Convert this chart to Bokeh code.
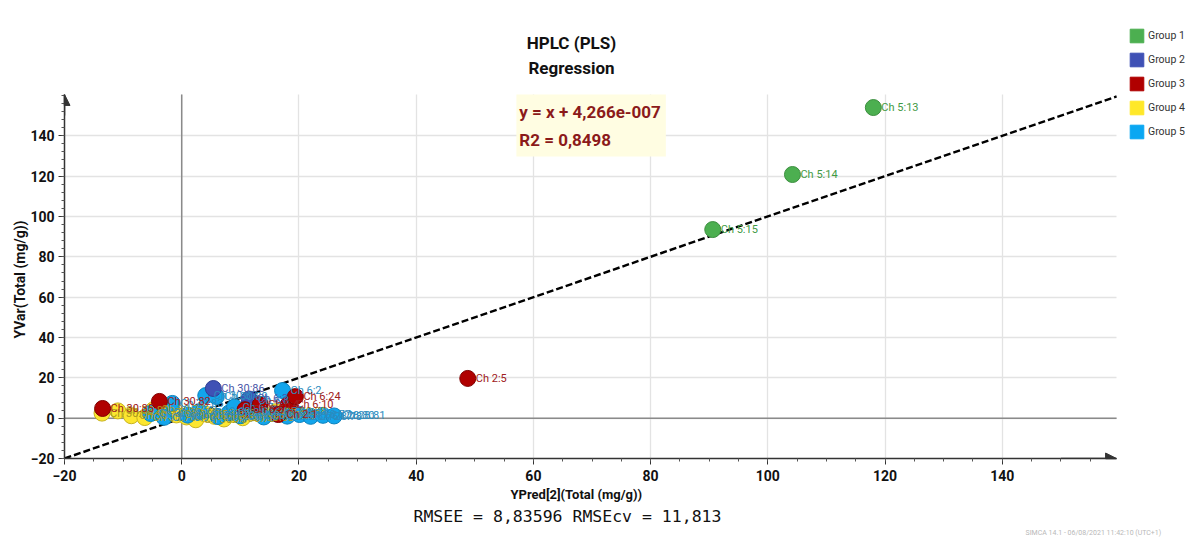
from bokeh.plotting import figure
from bokeh.models import (Range1d, BoxAnnotation, Legend, LegendItem, Title, Label,
                          ColumnDataSource, Arrow, NormalHead, FixedTicker, LabelSet)
from bokeh.core.properties import value
from bokeh.embed import file_html
from bokeh.resources import INLINE

FONT = "Roboto"

# ---------------- data ----------------
group_names = ["Group 1", "Group 2", "Group 3", "Group 4", "Group 5"]

g1_x = [90.6, 104.2, 118.0]
g1_y = [93.5, 120.8, 154.0]
g1_lab = ["Ch 5:15", "Ch 5:14", "Ch 5:13"]

g2_x = [5.4, 11.5]
g2_y = [14.7, 9.5]
g2_lab = ["Ch 30:86", "Ch 6:3"]

g3_x = [-13.5, -3.8, 13.4, 16.5, 18.2, 19.4, 48.8, 10.8]
g3_y = [4.8, 8.3, 6.8, 1.8, 6.8, 10.7, 19.7, 4.2]
g3_lab = ["Ch 30:85", "Ch 30:82", "Ch 6:4", "Ch 2:1", "Ch 6:10", "Ch 6:24", "Ch 2:5", "Ch 6:5"]

g4_x = [-13.6, -10.9, -8.6, -6.3, -4.8, -2.7, -0.9, 0.8, 2.4, 3.9, 5.6, 7.2, 8.9, 10.4, 12.3, 14.1, 16.0]
g4_y = [2.5, 3.6, 1.2, 0.3, 4.2, 2.9, 1.6, 0.6, -0.8, 2.2, 0.9, -0.4, 1.8, 0.2, 2.7, 1.1, 3.2]
g4_lab = ["Ch 30:84", "Ch 30:80", "Ch 30:79", "Ch 30:78", "Ch 30:77", "Ch 30:76",
          "Ch 30:75", "Ch 30:74", "Ch 30:73", "Ch 30:72", "Ch 30:71", "Ch 30:70",
          "Ch 30:69", "Ch 30:68", "Ch 30:66", "Ch 30:65", "Ch 30:88"]

g5_x = [-5.3, -1.6, 4.1, 5.9, 11.7, 17.2, 1.0, 3.0, 6.2, 8.1, 10.0, 12.2, 14.0, 16.1, 18.0,
        20.1, 22.0, 24.1, 26.0, -3.0, 9.0]
g5_y = [2.3, 7.3, 11.2, 10.7, 8.8, 13.7, 1.5, 3.2, 0.8, 2.6, 1.2, 3.5, 0.6, 2.1, 1.0,
        1.8, 0.9, 1.4, 1.1, 0.4, 5.5]
g5_lab = ["Ch 30:81", "Ch 30:83", "Ch 30:87", "Ch 30:89", "Ch 6:8", "Ch 6:2", "Ch 28:60",
          "Ch 28:62", "Ch 28:64", "Ch 28:66", "Ch 28:68", "Ch 28:70", "Ch 28:72", "Ch 28:74",
          "Ch 28:76", "Ch 28:77", "Ch 28:78", "Ch 28:80", "Ch 28:81", "Ch 30:90", "Ch 6:7"]

x_ticks = [-20, 0, 20, 40, 60, 80, 100, 120, 140]
y_ticks = [-20, 0, 20, 40, 60, 80, 100, 120, 140]
x_lo, x_hi = -20, 159.5      # drawn extent of the x axis
y_lo, y_hi = -20, 160.5      # drawn extent of the y axis

fit_x = [-20, 159.5]
intercept = 4.266e-7
fit_y = [v + intercept for v in fit_x]

title_lines = ["HPLC (PLS)", "Regression"]
eq_lines = ["y = x + 4,266e-007", "R2 = 0,8498"]
x_title = "YPred[2](Total (mg/g))"
y_title = "YVar(Total (mg/g))"
rmse_text = "RMSEE = 8,83596 RMSEcv = 11,813"
footer = "SIMCA 14.1 - 06/08/2021 11:42:10 (UTC+1)"

fill_cols = ["#4caf50", "#3f51b5", "#b00000", "#fce630", "#12a5ec"]
line_cols = ["#3d8f40", "#2f3e94", "#800000", "#c9b420", "#0c82bd"]
text_cols = ["#3f9a44", "#4a56a8", "#a02020", "#a89a20", "#2a8cc0"]
legend_cols = ["#4caf50", "#3f51b5", "#b00000", "#ffe829", "#0aa7f2"]

# ---------------- figure ----------------
# frame spans from the y axis to the right edge and from the x axis to the top edge
p = figure(width=1189, height=537, output_backend="svg", toolbar_location=None,
           x_range=Range1d(-20, 171.94), y_range=Range1d(-20, 207.07),
           min_border_left=64, min_border_right=0, min_border_top=0, min_border_bottom=79)
p.outline_line_color = None
p.background_fill_color = "white"
p.border_fill_color = "white"

for ax in (p.xaxis[0], p.yaxis[0]):
    ax.axis_line_color = "#333333"
    ax.axis_line_width = 1.5
    ax.major_tick_line_color = "#333333"
    ax.minor_tick_line_color = "#555555"
    ax.major_tick_out = 6
    ax.major_tick_in = 0
    ax.minor_tick_out = 3
    ax.minor_tick_in = 0
    ax.major_label_text_font = FONT
    ax.major_label_text_font_style = "bold"
    ax.major_label_text_font_size = "14px"
    ax.major_label_text_color = "#111111"

p.xaxis[0].bounds = (x_lo, x_hi)
p.yaxis[0].bounds = (y_lo, y_hi)
p.xaxis[0].ticker = FixedTicker(ticks=x_ticks, minor_ticks=[v for v in range(-20, 160, 5)])
p.yaxis[0].ticker = FixedTicker(ticks=y_ticks, minor_ticks=[v for v in range(-20, 161, 4)])
p.xaxis[0].major_label_standoff = 5
p.yaxis[0].major_label_standoff = 4

p.xgrid.ticker = FixedTicker(ticks=x_ticks)
p.ygrid.ticker = FixedTicker(ticks=y_ticks)
p.xgrid.cross_bounds = (y_lo, y_hi)
p.ygrid.cross_bounds = (x_lo, x_hi)
p.xgrid.grid_line_color = "#e3e3e3"
p.ygrid.grid_line_color = "#e3e3e3"
p.xgrid.grid_line_width = 1.3
p.ygrid.grid_line_width = 1.3

# zero lines
p.segment(x0=[0, x_lo], y0=[y_lo, 0], x1=[0, x_hi], y1=[y_hi, 0],
          line_color="#8a8a8a", line_width=1.5)

# equation box
p.add_layout(BoxAnnotation(left=57.1, right=82.6, top=y_hi, bottom=129.7,
                           fill_color="#fffde2", fill_alpha=1, line_color=None, level="underlay"))

# regression line
p.line(fit_x, fit_y, line_color="black", line_width=2.4, line_dash="7 3")

# points
groups = [(g1_x, g1_y, g1_lab), (g2_x, g2_y, g2_lab), (g3_x, g3_y, g3_lab),
          (g4_x, g4_y, g4_lab), (g5_x, g5_y, g5_lab)]
order = [3, 4, 1, 2, 0]
for i in order:
    gx, gy, gl = groups[i]
    src = ColumnDataSource(dict(x=gx, y=gy, lab=gl))
    p.scatter("x", "y", source=src, size=16, fill_color=fill_cols[i], line_color=line_cols[i],
              line_width=1)
    p.add_layout(LabelSet(x="x", y="y", text="lab", source=src, x_offset=8, y_offset=0,
                          text_baseline="middle", text_font=value(FONT), text_font_size="11px",
                          text_color=text_cols[i]))

# axis arrows
p.add_layout(Arrow(end=NormalHead(size=11, fill_color="#333333", line_color="#333333"),
                   x_start=x_lo, y_start=150, x_end=x_lo, y_end=y_hi,
                   line_color="#333333", line_width=1.5))
p.add_layout(Arrow(end=NormalHead(size=11, fill_color="#333333", line_color="#333333"),
                   x_start=150, y_start=y_lo, x_end=x_hi, y_end=y_lo,
                   line_color="#333333", line_width=1.5))

# equation texts
p.add_layout(Label(x=57.6, y=152.0, text=eq_lines[0], text_align="left", text_baseline="middle",
                   text_font=FONT, text_font_style="bold", text_font_size="17px", text_color="#8b1a1a"))
p.add_layout(Label(x=57.6, y=137.7, text=eq_lines[1], text_align="left", text_baseline="middle",
                   text_font=FONT, text_font_style="bold", text_font_size="17px", text_color="#8b1a1a"))

# title
p.add_layout(Label(x=66.5, y=186.2, text=title_lines[0], text_align="center", text_baseline="middle",
                   text_font=FONT, text_font_style="bold", text_font_size="17px", text_color="#111111"))
p.add_layout(Label(x=66.5, y=173.4, text=title_lines[1], text_align="center", text_baseline="middle",
                   text_font=FONT, text_font_style="bold", text_font_size="17px", text_color="#111111"))

# legend
nan = float("nan")
items = []
for i, name in enumerate(group_names):
    r = p.quad(left=[nan], right=[nan], top=[nan], bottom=[nan], fill_color=legend_cols[i],
               line_color=legend_cols[i])
    items.append(LegendItem(label=name, renderers=[r], index=0))
legend = Legend(items=items, location=(1064, 318), glyph_width=17, glyph_height=17,
                label_height=17, spacing=7, padding=0, margin=0, label_standoff=3,
                label_text_font=FONT, label_text_font_size="10.5px", label_text_color="#333333",
                border_line_color=None, background_fill_alpha=0)
p.add_layout(legend, "center")

# y title in the left panel (outside the axis)
p.add_layout(Title(text=y_title, align="left", offset=120, standoff=0,
                   text_font=FONT, text_font_style="bold", text_font_size="14px",
                   text_color="#111111"), "left")

# texts below (first added is nearest the axis)
p.add_layout(Title(text=x_title, align="left", offset=446, standoff=3,
                   text_font=FONT, text_font_style="bold", text_font_size="13px",
                   text_color="#111111"), "below")
p.add_layout(Title(text=rmse_text, align="left", offset=349, standoff=2,
                   text_font="DejaVu Sans Mono", text_font_style="normal", text_font_size="16.5px",
                   text_color="#111111"), "below")
p.add_layout(Title(text=footer, align="left", offset=961, standoff=0,
                   text_font=FONT, text_font_style="normal", text_font_size="7px",
                   text_color="#b8b8b8"), "below")

open("out.html", "w").write(file_html(p, INLINE))
